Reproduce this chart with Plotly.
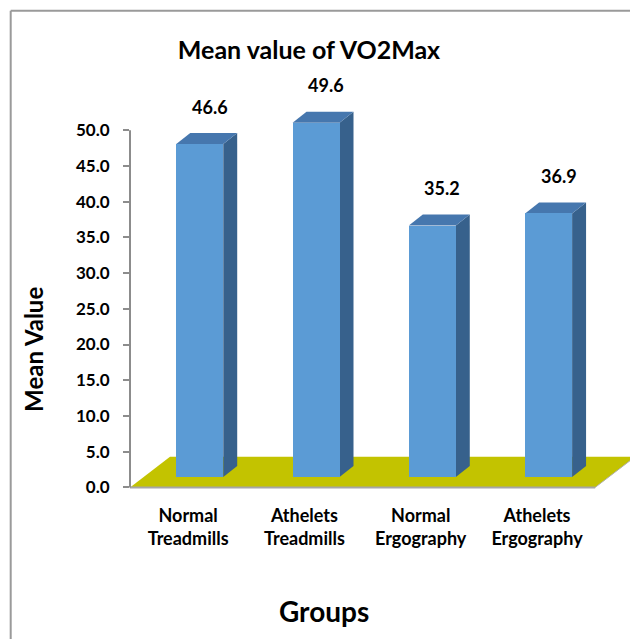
import plotly.graph_objects as go

# ---------------- data ----------------
categories = ["Normal<br>Treadmills", "Athelets<br>Treadmills",
              "Normal<br>Ergography", "Athelets<br>Ergography"]
mean_values = [46.6, 49.6, 35.2, 36.9]
value_labels = ["46.6", "49.6", "35.2", "36.9"]
y_tick_values = [0, 5, 10, 15, 20, 25, 30, 35, 40, 45, 50]
y_tick_labels = ["0.0", "5.0", "10.0", "15.0", "20.0", "25.0",
                 "30.0", "35.0", "40.0", "45.0", "50.0"]

# ---------------- styling ----------------
FONT = "Lato"
FRONT = "#5b9bd5"
SIDE = "#37618c"
TOP = "#4677ae"
FLOOR = "#c3c300"
GRAY = "#8c8c8c"

BAR_W = 0.404       # front face width (category units)
BAR_SHIFT = 0.10    # depth shift of bars to the right
BAR_BASE = 1.45     # bars stand in the middle of the floor
DEPTH_DX = 0.12     # bar depth (x units)
DEPTH_DY = 1.54     # bar depth (y units)
FLOOR_DX = 0.344
FLOOR_DY = 4.29
LABEL_GAP = 3.7

xpos = list(range(len(mean_values)))
bar_x = [p + BAR_SHIFT for p in xpos]

fig = go.Figure()
fig.add_trace(go.Bar(
    x=bar_x, y=mean_values, base=BAR_BASE, width=BAR_W,
    marker=dict(color=FRONT, line=dict(width=0)),
    hoverinfo="skip", showlegend=False,
))

shapes = []
# floor
x_lo, x_hi = xpos[0] - 0.5, xpos[-1] + 0.5
shapes.append(dict(
    type="path", xref="x", yref="y", layer="below",
    path=(f"M {x_lo},0 L {x_hi},0 L {x_hi + FLOOR_DX},{FLOOR_DY} "
          f"L {x_lo + FLOOR_DX},{FLOOR_DY} Z"),
    fillcolor=FLOOR, line=dict(width=0),
))
shapes.append(dict(type="line", xref="x", yref="y", layer="below",
                   x0=x_lo, x1=x_hi, y0=0, y1=0,
                   line=dict(color="#a6a6a6", width=2)))
shapes.append(dict(type="line", xref="x", yref="y", layer="below",
                   x0=x_hi, x1=x_hi + FLOOR_DX, y0=0, y1=FLOOR_DY,
                   line=dict(color="#b0b0b0", width=1)))

# 3D faces of the bars, derived from the values
for cx, v in zip(bar_x, mean_values):
    xl, xr = cx - BAR_W / 2, cx + BAR_W / 2
    b, t = BAR_BASE, BAR_BASE + v
    shapes.append(dict(
        type="path", xref="x", yref="y", layer="below",
        path=(f"M {xr},{b} L {xr + DEPTH_DX},{b + DEPTH_DY} "
              f"L {xr + DEPTH_DX},{t + DEPTH_DY} L {xr},{t} Z"),
        fillcolor=SIDE, line=dict(width=0),
    ))
    shapes.append(dict(
        type="path", xref="x", yref="y", layer="below",
        path=(f"M {xl},{t} L {xr},{t} L {xr + DEPTH_DX},{t + DEPTH_DY} "
              f"L {xl + DEPTH_DX},{t + DEPTH_DY} Z"),
        fillcolor=TOP, line=dict(width=0),
    ))

# value axis line (0 .. 50)
shapes.append(dict(type="line", xref="x domain", yref="y",
                   x0=0, x1=0, y0=y_tick_values[0], y1=y_tick_values[-1],
                   line=dict(color=GRAY, width=2)))

# chart frame (left and top edges)
FRAME_X, FRAME_Y = -0.2353, 1.149
shapes.append(dict(type="line", xref="paper", yref="paper",
                   x0=FRAME_X, x1=FRAME_X, y0=FRAME_Y, y1=-0.45,
                   line=dict(color="#9a9a9a", width=2)))
shapes.append(dict(type="line", xref="paper", yref="paper",
                   x0=FRAME_X, x1=1.05, y0=FRAME_Y, y1=FRAME_Y,
                   line=dict(color="#9a9a9a", width=2)))

annotations = []
for cx, v, lab in zip(bar_x, mean_values, value_labels):
    annotations.append(dict(
        x=cx + 0.085, y=BAR_BASE + v + DEPTH_DY + LABEL_GAP,
        xref="x", yref="y", text=lab, showarrow=False,
        xanchor="center", yanchor="middle",
        font=dict(family=FONT, size=18, color="#000000", weight="bold"),
    ))
annotations.append(dict(
    x=0.3826, y=-0.286, xref="paper", yref="paper", text="Groups",
    showarrow=False, xanchor="center", yanchor="middle",
    font=dict(family=FONT, size=28, color="#000000", weight="bold"),
))
annotations.append(dict(
    x=-0.189, y=0.338, xref="paper", yref="paper", text="Mean Value",
    showarrow=False, xanchor="center", yanchor="middle", textangle=-90,
    font=dict(family=FONT, size=24, color="#000000", weight="bold"),
))

fig.update_layout(
    width=630, height=631,
    margin=dict(l=122, r=1, t=65, b=148),
    paper_bgcolor="white", plot_bgcolor="white",
    title=dict(text="Mean value of VO2Max", xref="container", yref="container",
               x=301 / 630, y=1 - 42 / 631, xanchor="center", yanchor="middle",
               font=dict(family=FONT, size=25, color="#000000", weight="bold")),
    shapes=shapes, annotations=annotations,
    xaxis=dict(range=[-0.5, 3.86], tickvals=xpos, ticktext=categories,
               showgrid=False, zeroline=False, showline=False, ticks="",
               ticklabelstandoff=12, automargin=False,
               tickfont=dict(family=FONT, size=18, color="#000000", weight="bold")),
    yaxis=dict(range=[-0.5, 58], tickvals=y_tick_values, ticktext=y_tick_labels,
               showgrid=False, zeroline=False, showline=False,
               ticks="outside", ticklen=6, tickwidth=1.5, tickcolor=GRAY,
               ticklabelstandoff=10, automargin=False,
               tickfont=dict(family=FONT, size=17, color="#000000", weight="bold")),
    bargap=0,
)

fig.write_html("out.html")
